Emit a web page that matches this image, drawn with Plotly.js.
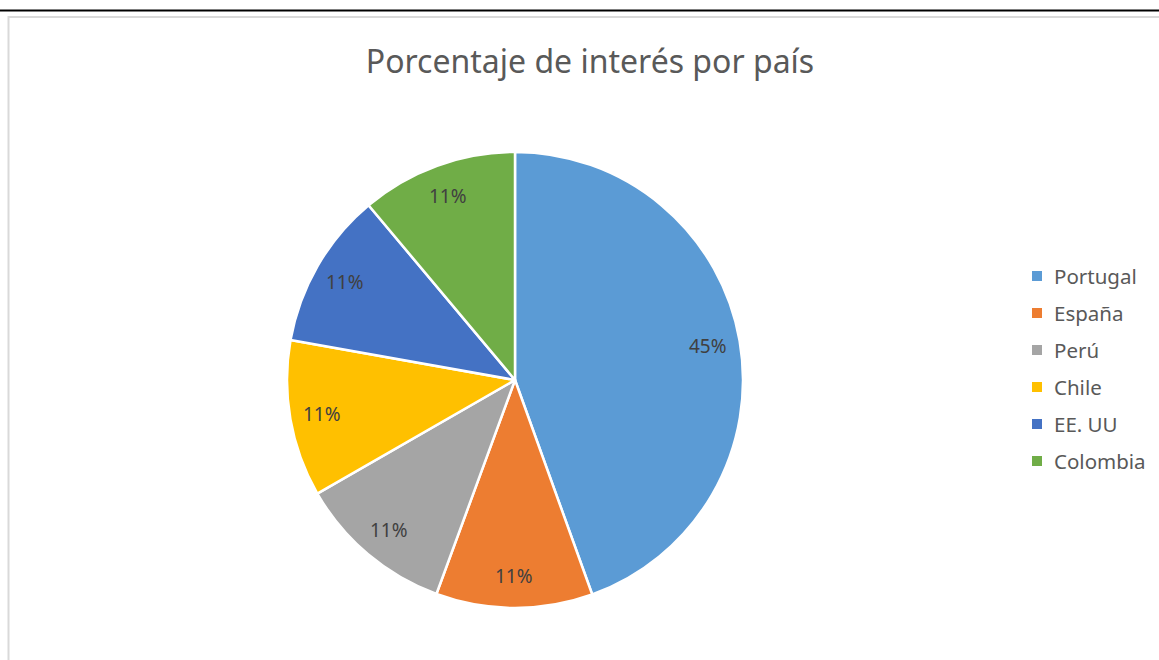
<!DOCTYPE html>
<html>
<head>
<meta charset="utf-8">
<script src="https://cdn.plot.ly/plotly-3.0.1.min.js"></script>
<style>
html,body{margin:0;padding:0;background:#fff;overflow:hidden;}
#chart{width:1159px;height:660px;}
</style>
</head>
<body>
<div id="chart"></div>
<script>
const titleText = "Porcentaje de interés por país";
const countries = ["Portugal", "España", "Perú", "Chile", "EE. UU", "Colombia"];
const interest = [44.5, 11.1, 11.1, 11.1, 11.1, 11.1];
const sliceColors = ["#5B9BD5", "#ED7D31", "#A5A5A5", "#FFC000", "#4472C4", "#70AD47"];

const W = 1159, H = 660;
const CX = 515, CY = 380, R = 228;
const fontFam = "'Noto Sans', 'Open Sans', sans-serif";

const trace = {
  type: "pie",
  labels: countries,
  values: interest,
  sort: false,
  direction: "clockwise",
  rotation: 0,
  marker: {colors: sliceColors, line: {color: "#ffffff", width: 2.5}},
  textinfo: "none",
  hoverinfo: "label+percent",
  showlegend: false,
  domain: {x: [(CX - R) / W, (CX + R) / W], y: [1 - (CY + R) / H, 1 - (CY - R) / H]}
};

const shapes = [
  {type: "line", xref: "paper", yref: "paper", x0: 0, x1: 1, y0: 1 - 10.5 / H, y1: 1 - 10.5 / H,
   line: {color: "#000000", width: 2}},
  {type: "rect", xref: "paper", yref: "paper", x0: 8.5 / W, x1: 1.01, y0: -0.01, y1: 1 - 17 / H,
   line: {color: "#d9d9d9", width: 2}, fillcolor: "rgba(0,0,0,0)"}
];
const annotations = [];

// data labels at the mid-angle of each slice
const total = interest.reduce((a, b) => a + b, 0);
let cum = 0;
interest.forEach((v, i) => {
  const mid = (cum + v / 2) / total * 2 * Math.PI;
  cum += v;
  const rr = 0.86 * R;
  const pct = Math.round(Math.round(v / total * 100 * 1e6) / 1e6);
  annotations.push({xref: "paper", yref: "paper",
    x: (CX + rr * Math.sin(mid)) / W, y: 1 - (CY - rr * Math.cos(mid)) / H,
    xanchor: "center", yanchor: "middle", showarrow: false,
    text: pct + "%",
    font: {family: fontFam, size: 19, color: "#404040"}});
});

// legend
countries.forEach((c, i) => {
  const yc = 1 - (276 + 37 * i) / H;
  shapes.push({type: "rect", xref: "paper", yref: "paper",
    x0: 1032 / W, x1: 1042 / W, y0: yc - 5 / H, y1: yc + 5 / H,
    fillcolor: sliceColors[i], line: {width: 0}});
  annotations.push({xref: "paper", yref: "paper", x: 1052 / W, y: yc, xanchor: "left", yanchor: "middle",
    text: c, showarrow: false, font: {family: fontFam, size: 20.5, color: "#595959"}});
});

const layout = {
  width: W, height: H,
  margin: {l: 0, r: 0, t: 0, b: 0},
  paper_bgcolor: "#ffffff",
  title: {text: titleText, x: 590 / W, xanchor: "center", y: 1 - 62 / H, yanchor: "middle",
    font: {family: fontFam, size: 32, color: "#595959"}},
  showlegend: false,
  shapes: shapes,
  annotations: annotations
};

Plotly.newPlot("chart", [trace], layout, {displayModeBar: false, staticPlot: true});
</script>
</body>
</html>
